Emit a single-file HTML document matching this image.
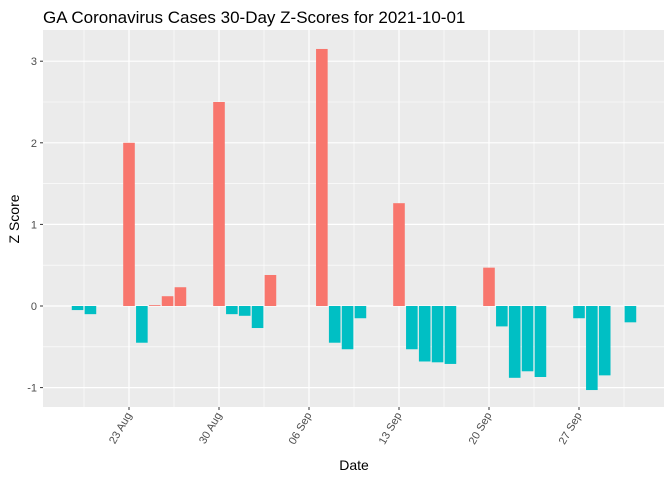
<!DOCTYPE html>
<html><head><meta charset="utf-8"><style>
body{margin:0;background:#fff;font-family:"Liberation Sans",sans-serif}
</style></head><body>
<svg id="chart" width="672" height="480" xmlns="http://www.w3.org/2000/svg">
<text x="43" y="23" font-size="17" fill="#000">GA Coronavirus Cases 30-Day Z-Scores for 2021-10-01</text>
<rect x="43" y="30" width="621" height="377" fill="#ebebeb"/>
<g id="grid"></g><g id="bars"></g><g id="axes"></g>
<text x="354" y="470" font-size="14" text-anchor="middle">Date</text>
<text transform="translate(19,219) rotate(-90)" font-size="14" text-anchor="middle">Z Score</text>
</svg>
<script>
const days = [0,1,4,5,6,7,8,11,12,13,14,15,19,20,21,22,25,26,27,28,29,32,33,34,35,36,39,40,41,43];
const zscores = [-0.05,-0.1,2.0,-0.45,0.01,0.12,0.23,2.5,-0.1,-0.12,-0.27,0.38,3.15,-0.45,-0.53,-0.15,1.26,-0.53,-0.68,-0.69,-0.71,0.47,-0.25,-0.88,-0.8,-0.87,-0.15,-1.03,-0.85,-0.2];
const xTickDays = [4,11,18,25,32,39];
const xTickLabels = ["23 Aug","30 Aug","06 Sep","13 Sep","20 Sep","27 Sep"];
const yTicks = [-1,0,1,2,3];
const NS="http://www.w3.org/2000/svg";
const X=d=>129+(d-4)*12.857;
const Y=v=>306-v*81.6;
function mk(tag,attrs,parent){const e=document.createElementNS(NS,tag);for(const k in attrs)e.setAttribute(k,attrs[k]);document.getElementById(parent).appendChild(e);return e;}
// minor grid
for(let i=0;i<xTickDays.length+1;i++){const d=xTickDays[0]-3.5+7*i;const x=X(d);if(x>43&&x<664){const l=mk('line',{x1:x,x2:x,y1:30,y2:407,stroke:'#fff','stroke-width':0.6},'grid');

}}
for(let v=-1.5;v<=3.5;v+=1){const y=Y(v);if(y>30&&y<407){const l=mk('line',{x1:43,x2:664,y1:y,y2:y,stroke:'#fff','stroke-width':0.6},'grid');

}}
xTickDays.forEach((d,i)=>{const x=X(d);
const l=mk('line',{x1:x,x2:x,y1:30,y2:407,stroke:'#fff','stroke-width':1.2},'grid');


const t=mk('line',{x1:x,x2:x,y1:407,y2:410,stroke:'#333','stroke-width':1},'axes');


const tx=mk('text',{transform:`translate(${x+3},415) rotate(-60)`,'font-size':11,fill:'#4d4d4d','text-anchor':'end'},'axes');
tx.textContent=xTickLabels[i];

});
yTicks.forEach(v=>{const y=Y(v);
const l=mk('line',{x1:43,x2:664,y1:y,y2:y,stroke:'#fff','stroke-width':1.2},'grid');


const t=mk('line',{x1:40,x2:43,y1:y,y2:y,stroke:'#333','stroke-width':1},'axes');


const tx=mk('text',{x:37,y:y+4,'font-size':11,fill:'#4d4d4d','text-anchor':'end'},'axes');
tx.textContent=String(v);

});
days.forEach((d,i)=>{const v=zscores[i];const x=X(d)-5.8;const y0=Y(0),y1=Y(v);
const r=mk('rect',{x:x,y:Math.min(y0,y1),width:11.6,height:Math.max(Math.abs(y1-y0),0.8),fill:v>0?'#f8766d':'#00bfc4'},'bars');

});
</script>
</body></html>
